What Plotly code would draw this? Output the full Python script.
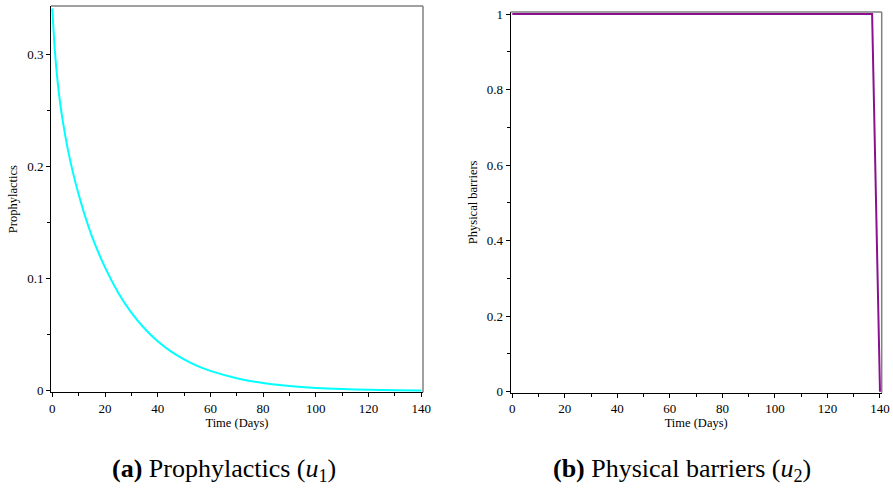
import plotly.graph_objects as go

# ---- data ----
days_u1 = [0, 1, 2, 3, 4, 6, 8, 10, 12, 15, 20, 25, 30, 35, 40, 45, 50, 55, 60, 70, 80, 90, 100, 110, 120, 130, 140]
u1 = [0.341, 0.302, 0.276, 0.256, 0.240, 0.214, 0.193, 0.175, 0.159, 0.138, 0.110, 0.0875, 0.0697, 0.0555,
      0.0441, 0.0351, 0.0280, 0.0222, 0.0177, 0.0112, 0.0069, 0.0042, 0.0025, 0.0015, 0.0009, 0.0005, 0.0003]
days_u2 = [0, 137, 140]
u2 = [1.0, 1.0, 0.0]

x_ticks = [0, 20, 40, 60, 80, 100, 120, 140]
y1_ticks = [0, 0.1, 0.2, 0.3]
y2_ticks = [0, 0.2, 0.4, 0.6, 0.8, 1]

FONT = "Liberation Serif, Times New Roman, serif"
W, H = 893, 491

fig = go.Figure()
fig.add_trace(go.Scatter(x=days_u1, y=u1, mode="lines",
                         line=dict(color="#00FFFF", width=2, shape="spline", smoothing=0.8),
                         xaxis="x", yaxis="y", showlegend=False))
fig.add_trace(go.Scatter(x=days_u2, y=u2, mode="lines", line=dict(color="#8B1090", width=2),
                         xaxis="x2", yaxis="y2", showlegend=False))

def xax(domain, rng, anchor):
    return dict(domain=domain, range=rng, anchor=anchor, tickvals=x_ticks, ticks="outside", ticklen=4,
                tickwidth=1, tickcolor="black", showline=True, linecolor="black", linewidth=1,
                showgrid=False, zeroline=False, automargin=False,
                tickfont=dict(family=FONT, size=13, color="black"),
                minor=dict(dtick=10, tick0=0, ticks="outside", ticklen=3, tickcolor="black", showgrid=False),
                title=dict(text="Time (Days)", font=dict(family=FONT, size=12.5, color="black"), standoff=2))

def yax(domain, rng, anchor, tv, mdt, title):
    return dict(domain=domain, range=rng, anchor=anchor, tickvals=tv, ticks="outside", ticklen=4,
                tickwidth=1, tickcolor="black", showline=True, linecolor="black", linewidth=1,
                showgrid=False, zeroline=False, automargin=False,
                tickfont=dict(family=FONT, size=13, color="black"),
                minor=dict(dtick=mdt, tick0=0, ticks="outside", ticklen=3, tickcolor="black", showgrid=False),
                title=dict(text=title, font=dict(family=FONT, size=12.5, color="black"), standoff=6))

xd1 = [51 / W, 423 / W]
xd2 = [510.7 / W, 881.7 / W]
yd1 = [1 - 392.3 / H, 1 - 6 / H]
yd2 = [1 - 392.7 / H, 1 - 12 / H]

fig.update_layout(
    width=W, height=H, margin=dict(l=0, r=0, t=0, b=0),
    paper_bgcolor="white", plot_bgcolor="white",
    xaxis=xax(xd1, [-0.5, 140.7], "y"),
    yaxis=yax(yd1, [-0.0014, 0.3432], "x", y1_ticks, 0.05, "Prophylactics"),
    xaxis2=xax(xd2, [-0.6, 140.65], "y2"),
    yaxis2=yax(yd2, [-0.0026, 1.0053], "x2", y2_ticks, 0.1, "Physical barriers"),
    shapes=[
        dict(type="line", xref="x domain", yref="y domain", x0=0, x1=1, y0=1, y1=1, line=dict(color="#808080", width=1.5)),
        dict(type="line", xref="x domain", yref="y domain", x0=1, x1=1, y0=0, y1=1, line=dict(color="#808080", width=1.5)),
        dict(type="line", xref="x2 domain", yref="y2 domain", x0=0, x1=1, y0=1, y1=1, line=dict(color="#808080", width=1.5)),
        dict(type="line", xref="x2 domain", yref="y2 domain", x0=1, x1=1, y0=0, y1=1, line=dict(color="#808080", width=1.5)),
    ],
    annotations=[
        dict(text="<b>(a)</b> Prophylactics (<i>u</i><sub>1</sub>)", xref="paper", yref="paper",
             x=224 / W, y=1 - 470 / H, showarrow=False, xanchor="center", yanchor="middle",
             font=dict(family=FONT, size=26, color="black")),
        dict(text="<b>(b)</b> Physical barriers (<i>u</i><sub>2</sub>)", xref="paper", yref="paper",
             x=682 / W, y=1 - 470 / H, showarrow=False, xanchor="center", yanchor="middle",
             font=dict(family=FONT, size=26, color="black")),
    ],
)

fig.write_html("out.html", config={"displayModeBar": False},
               post_script="document.body.style.margin='0';document.body.style.padding='0';"
                           "document.documentElement.style.overflow='hidden';")
